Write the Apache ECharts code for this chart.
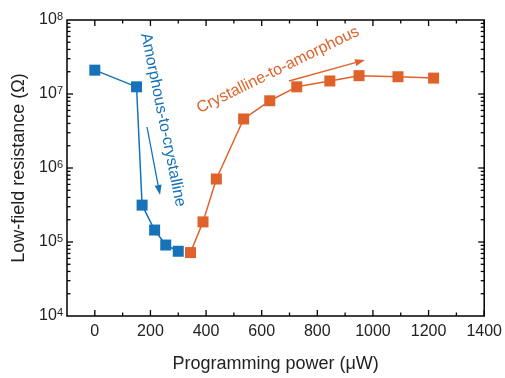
<!DOCTYPE html>
<html>
<head>
<meta charset="utf-8">
<style>
  html, body { margin: 0; padding: 0; background: #fff; }
  #chart { width: 505px; height: 378px; }
</style>
<script src="https://cdn.jsdelivr.net/npm/echarts@6/dist/echarts.min.js"></script>
</head>
<body>
<div id="chart"></div>
<script>
// Programming power (µW) and low-field resistance (Ω)
const amorphToCrystPower = [0, 150, 170, 215, 255, 300];
const amorphToCrystRes = [2.1e7, 1.25e7, 3.15e5, 1.45e5, 9.1e4, 7.5e4];

const crystToAmorphPower = [344, 389, 437, 535, 629, 726, 845, 950, 1090, 1218];
const crystToAmorphRes = [7.2e4, 1.87e5, 7.1e5, 4.6e6, 8.1e6, 1.25e7, 1.5e7, 1.77e7, 1.71e7, 1.64e7];

// Axis ranges and tick positions
const xMin = -100, xMax = 1400;
const yMin = 1e4, yMax = 1e8;
const xMajorTicks = [0, 200, 400, 600, 800, 1000, 1200, 1400];
const xMinorTicks = [100, 300, 500, 700, 900, 1100, 1300];
const yMajorTicks = [1e5, 1e6, 1e7];
const yMinorTicks = [];
[1e4, 1e5, 1e6, 1e7].forEach(d => {
  [2, 3, 4, 5, 6, 7, 8, 9].forEach(m => yMinorTicks.push(m * d));
});

const BLUE = '#1672b9';
const ORANGE = '#e0622b';
const TEXT = '#222';
const FONT = 'Liberation Sans, Arial, sans-serif';

const pairs = (xs, ys) => xs.map((x, i) => [x, ys[i]]);

// tick items: [x, y, kind]  kind 0/1 = x major/minor, 2/3 = y major/minor
const tickData = []
  .concat(xMajorTicks.map(v => [v, yMin, 0]))
  .concat(xMinorTicks.map(v => [v, yMin, 1]))
  .concat(yMajorTicks.map(v => [xMin, v, 2]))
  .concat(yMinorTicks.map(v => [xMin, v, 3]));

function renderTick(params, api) {
  const kind = api.value(2);
  const cs = params.coordSys;
  const p = api.coord([api.value(0), api.value(1)]);
  const len = (kind === 0 || kind === 2) ? 6 : 3.5;
  const style = { stroke: '#000', lineWidth: 1.3 };
  let a, b;
  if (kind < 2) {
    const bottom = cs.y + cs.height, top = cs.y;
    a = { x1: p[0], y1: bottom, x2: p[0], y2: bottom - len };
    b = { x1: p[0], y1: top, x2: p[0], y2: top + len };
  } else {
    const left = cs.x, right = cs.x + cs.width;
    a = { x1: left, y1: p[1], x2: left + len, y2: p[1] };
    b = { x1: right, y1: p[1], x2: right - len, y2: p[1] };
  }
  return {
    type: 'group',
    children: [
      { type: 'line', shape: a, style: style },
      { type: 'line', shape: b, style: style }
    ]
  };
}

function arrow(x1, y1, x2, y2, color) {
  const ang = Math.atan2(y2 - y1, x2 - x1);
  const hl = 10, hw = 3.5;
  const bx = x2 - hl * Math.cos(ang), by = y2 - hl * Math.sin(ang);
  const nx = -Math.sin(ang), ny = Math.cos(ang);
  return [
    { type: 'line', shape: { x1: x1, y1: y1, x2: bx, y2: by },
      style: { stroke: color, lineWidth: 1.3 }, z: 50 },
    { type: 'polygon',
      shape: { points: [[x2, y2], [bx + nx * hw, by + ny * hw], [bx - nx * hw, by - ny * hw]] },
      style: { fill: color }, z: 50 }
  ];
}

const chart = echarts.init(document.getElementById('chart'), null, { renderer: 'canvas' });

chart.setOption({
  animation: false,
  backgroundColor: '#fff',
  grid: {
    left: 67, right: 19, top: 20, bottom: 57,
    show: true, borderColor: '#000', borderWidth: 1.5, backgroundColor: 'transparent'
  },
  xAxis: {
    type: 'value',
    min: xMin, max: xMax, interval: 100,
    axisLine: { show: false },
    axisTick: { show: false },
    splitLine: { show: false },
    axisLabel: {
      color: TEXT, fontSize: 16, fontFamily: FONT, margin: 8,
      formatter: v => (v % 200 === 0 ? String(v) : '')
    },
    name: 'Programming power (\u03bcW)',
    nameLocation: 'middle', nameGap: 39,
    nameTextStyle: { color: TEXT, fontSize: 18, fontFamily: FONT }
  },
  yAxis: {
    type: 'log', logBase: 10,
    min: yMin, max: yMax,
    axisLine: { show: false },
    axisTick: { show: false },
    splitLine: { show: false },
    axisLabel: {
      color: TEXT, fontSize: 16, fontFamily: FONT, margin: 4,
      lineHeight: 18,
      formatter: v => '10{s|' + Math.round(Math.log10(v)) + '}',
      rich: {
        s: { fontSize: 11, lineHeight: 11, verticalAlign: 'top', color: TEXT,
             fontFamily: FONT, padding: [0, 0, 6, 0] }
      }
    },
    name: 'Low-field resistance (\u03a9)',
    nameLocation: 'middle', nameGap: 34,
    nameTextStyle: { color: TEXT, fontSize: 18, fontFamily: FONT }
  },
  series: [
    {
      type: 'custom',
      renderItem: renderTick,
      data: tickData,
      silent: true,
      clip: false,
      z: 10
    },
    {
      name: 'Amorphous-to-crystalline',
      type: 'line',
      data: pairs(amorphToCrystPower, amorphToCrystRes),
      symbol: 'rect', symbolSize: 11,
      lineStyle: { color: BLUE, width: 1.5 },
      itemStyle: { color: BLUE },
      z: 3
    },
    {
      name: 'Crystalline-to-amorphous',
      type: 'line',
      data: pairs(crystToAmorphPower, crystToAmorphRes),
      symbol: 'rect', symbolSize: 11,
      lineStyle: { color: ORANGE, width: 1.5 },
      itemStyle: { color: ORANGE },
      z: 4
    }
  ],
  graphic: [
    {
      type: 'text', x: 163, y: 120, rotation: -78.5 * Math.PI / 180,
      style: { text: 'Amorphous-to-crystalline', fill: BLUE, fontSize: 16,
               fontFamily: FONT, align: 'center', verticalAlign: 'middle' },
      z: 50
    },
    {
      type: 'text', x: 278, y: 70, rotation: 26.1 * Math.PI / 180,
      style: { text: 'Crystalline-to-amorphous', fill: ORANGE, fontSize: 16,
               fontFamily: FONT, align: 'center', verticalAlign: 'middle' },
      z: 50
    }
  ].concat(arrow(147, 127, 160, 195, BLUE)).concat(arrow(289, 81, 365, 60, ORANGE))
});
</script>
</body>
</html>
